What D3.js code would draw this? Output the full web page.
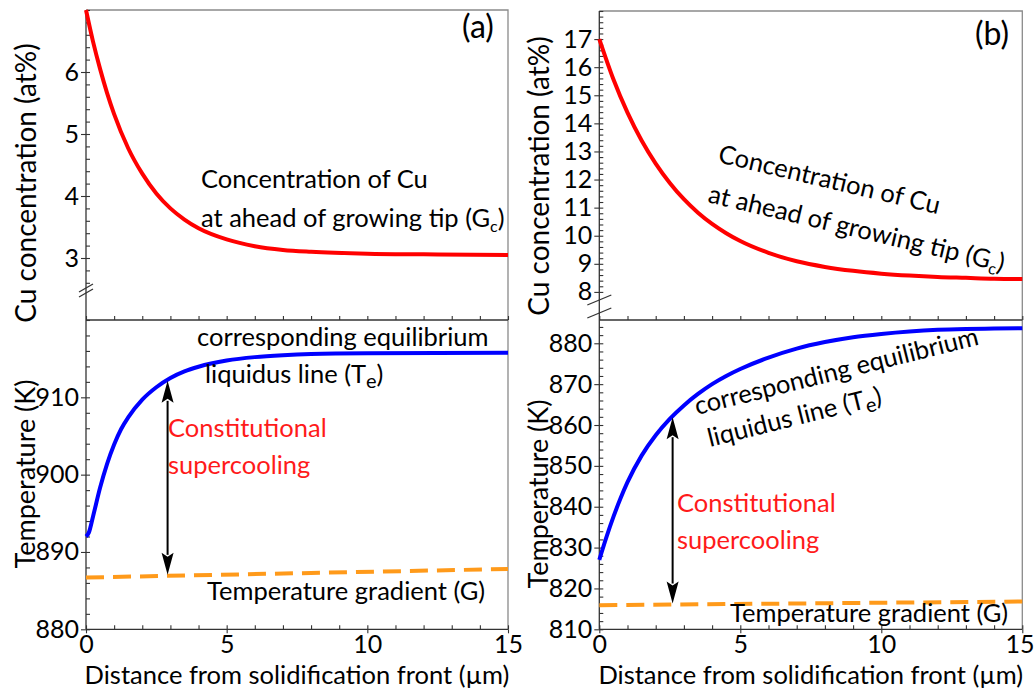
<!DOCTYPE html>
<html>
<head>
<meta charset="utf-8">
<script src="https://cdn.jsdelivr.net/npm/d3@7"></script>
<style>
  body { margin: 0; background: #fff; }
  svg { display: block; }
  text { font-family: Lato, "Open Sans", "DejaVu Sans", sans-serif; fill: #000; }
</style>
</head>
<body>
<svg id="chart" width="1035" height="691"></svg>
<script>
// ---- Panel (a): Cu concentration ahead of the tip ----
const distCuA = [0, 0.25, 0.5, 0.75, 1, 1.5, 2, 2.5, 3, 3.5, 4, 5, 6, 7, 8, 10, 12, 15];
const cuA     = [7.00, 6.49, 6.05, 5.66, 5.32, 4.77, 4.36, 4.04, 3.80, 3.62, 3.48, 3.30, 3.19, 3.13, 3.10, 3.07, 3.06, 3.05];
// ---- Panel (a): equilibrium liquidus temperature ----
const distTeA = [0, 0.1, 0.25, 0.5, 0.75, 1, 1.25, 1.5, 2, 2.5, 3, 3.5, 4, 5, 6, 7, 8, 10, 15];
const teA     = [892.0, 892.5, 894.6, 898.3, 901.4, 903.9, 905.9, 907.4, 909.7, 911.3, 912.5, 913.35, 913.95, 914.75, 915.2, 915.45, 915.6, 915.7, 915.75];
// ---- Panel (a): imposed temperature gradient ----
const distGA = [0, 15];
const gradA  = [886.7, 887.8];

// ---- Panel (b): Cu concentration ahead of the tip ----
const distCuB = [0, 0.5, 1, 1.5, 2, 2.5, 3, 3.5, 4, 4.5, 5, 6, 7, 8, 9, 10, 11, 12, 13, 14, 15];
const cuB     = [17.0, 15.57, 14.38, 13.39, 12.57, 11.88, 11.30, 10.82, 10.42, 10.09, 9.81, 9.39, 9.09, 8.89, 8.75, 8.65, 8.58, 8.53, 8.50, 8.47, 8.46];
// ---- Panel (b): equilibrium liquidus temperature ----
const distTeB = [0, 0.25, 0.5, 0.75, 1, 1.5, 2, 2.5, 3, 3.5, 4, 4.5, 5, 6, 7, 8, 9, 10, 11, 12, 13, 14, 15];
const teB     = [827.0, 832.5, 837.5, 842.0, 846.0, 852.5, 857.5, 861.5, 864.8, 867.6, 870.0, 872.0, 873.7, 876.5, 878.7, 880.3, 881.5, 882.3, 882.9, 883.3, 883.5, 883.6, 883.7];
// ---- Panel (b): imposed temperature gradient ----
const distGB = [0, 15];
const gradB  = [815.9, 816.8];

// ---- Tick labels ----
const distTicks  = [0, 5, 10, 15];
const cuTicksA   = [3, 4, 5, 6];
const tempTicksA = [880, 890, 900, 910];
const cuTicksB   = [8, 9, 10, 11, 12, 13, 14, 15, 16, 17];
const tempTicksB = [810, 820, 830, 840, 850, 860, 870, 880];

// Arrow positions (distance, µm) marking the constitutional supercooling
const arrowDistA = 2.9;
const arrowDistB = 2.6;

const svg = d3.select("#chart");
const AXIS = "#333";
const FRAME = "#8a8a8a";
const SVG_W = 1035;

function interp(xs, ys, x) {
  const i = Math.max(1, d3.bisectLeft(xs, x));
  const x0 = xs[i - 1], x1 = xs[i];
  return ys[i - 1] + (ys[i] - ys[i - 1]) * (x - x0) / (x1 - x0);
}

function range(a, b, s) {
  const out = [];
  for (let v = a; v <= b + 1e-9; v += s) out.push(+v.toFixed(4));
  return out;
}

function styleAxis(sel, size) {
  sel.selectAll("path.domain").remove();
  sel.selectAll("line").attr("stroke", AXIS).attr("stroke-width", 1.1);
  sel.selectAll("text").attr("font-size", size).attr("fill", "#000").attr("font-family", "Lato");
}

function drawPanel(p) {
  const g = svg.append("g");
  const x = d3.scaleLinear().domain([0, 15]).range([p.left, p.right]);
  const yc = d3.scaleLinear().domain(p.cDomain).range([p.mid, p.top]);
  const yt = d3.scaleLinear().domain(p.tDomain).range([p.bottom, p.mid]);

  // frame: top and right borders
  g.append("path")
    .attr("d", `M${p.left},${p.top}H${p.right}V${p.bottom}`)
    .attr("fill", "none").attr("stroke", FRAME).attr("stroke-width", 1.3);

  // shared horizontal divider between upper and lower plots
  g.append("line").attr("x1", p.left).attr("x2", p.right).attr("y1", p.mid).attr("y2", p.mid)
    .attr("stroke", AXIS).attr("stroke-width", 1.3);
  g.append("g").attr("transform", `translate(0,${p.mid})`)
    .call(d3.axisTop(x).tickValues(range(0, 15, 1)).tickSize(4).tickFormat(""))
    .call(a => styleAxis(a, 0));

  // bottom x axis: minor ticks inward, labelled ticks outward
  g.append("g").attr("transform", `translate(0,${p.bottom})`)
    .call(d3.axisTop(x).tickValues(range(0, 15, 1)).tickSize(4).tickFormat(""))
    .call(a => styleAxis(a, 0));
  const xLab = g.append("g").attr("transform", `translate(0,${p.bottom})`)
    .call(d3.axisBottom(x).tickValues(distTicks).tickSize(4).tickPadding(2).tickFormat(d3.format("d")))
    .call(a => styleAxis(a, 25));
  // keep the last label inside the page
  xLab.selectAll("text").each(function () {
    const b = this.getBBox();
    const tx = x(+this.textContent);
    const over = tx + b.x + b.width - (SVG_W - 1);
    if (over > 0) d3.select(this).attr("dx", -over);
  });
  g.append("line").attr("x1", p.left).attr("x2", p.right).attr("y1", p.bottom).attr("y2", p.bottom)
    .attr("stroke", AXIS).attr("stroke-width", 1.3);

  // left y axis line spanning both plots
  g.append("line").attr("x1", p.left).attr("x2", p.left).attr("y1", p.top).attr("y2", p.bottom)
    .attr("stroke", AXIS).attr("stroke-width", 1.3);

  // concentration axis
  g.append("g").attr("transform", `translate(${p.left},0)`)
    .call(d3.axisRight(yc).tickValues(p.cMinor).tickSize(4).tickFormat(""))
    .call(a => styleAxis(a, 0));
  g.append("g").attr("transform", `translate(${p.left},0)`)
    .call(d3.axisLeft(yc).tickValues(p.cTicks).tickSize(5).tickPadding(2).tickFormat(d3.format("d")))
    .call(a => styleAxis(a, 25));

  // temperature axis
  g.append("g").attr("transform", `translate(${p.left},0)`)
    .call(d3.axisRight(yt).tickValues(p.tMinor).tickSize(4).tickFormat(""))
    .call(a => styleAxis(a, 0));
  g.append("g").attr("transform", `translate(${p.left},0)`)
    .call(d3.axisLeft(yt).tickValues(p.tTicks).tickSize(5).tickPadding(2).tickFormat(d3.format("d")))
    .call(a => styleAxis(a, 25));

  // axis break marks
  p.breaks.forEach(b => {
    g.append("line")
      .attr("x1", p.left - b.w).attr("y1", b.y + b.h)
      .attr("x2", p.left + b.w).attr("y2", b.y - b.h)
      .attr("stroke", AXIS).attr("stroke-width", 1.3);
  });

  // curves
  const lineC = d3.line().x((d, i) => x(p.distCu[i])).y(d => yc(d)).curve(d3.curveMonotoneX);
  const lineT = d3.line().x((d, i) => x(p.distTe[i])).y(d => yt(d)).curve(d3.curveMonotoneX);
  const lineG = d3.line().x((d, i) => x(p.distG[i])).y(d => yt(d));

  g.append("path").attr("d", lineG(p.grad)).attr("fill", "none")
    .attr("stroke", "#ff9a1a").attr("stroke-width", 4).attr("stroke-dasharray", "18,9");
  g.append("path").attr("d", lineC(p.cu)).attr("fill", "none")
    .attr("stroke", "#ff0000").attr("stroke-width", 4);
  g.append("path").attr("d", lineT(p.te)).attr("fill", "none")
    .attr("stroke", "#0000ff").attr("stroke-width", 4);

  // double-headed arrow between gradient line and liquidus curve
  const ax = x(p.arrowDist);
  const yTop = yt(interp(p.distTe, p.te, p.arrowDist)) + 1;
  const yBot = yt(interp(p.distG, p.grad, p.arrowDist)) - 1;
  const hl = 22, hw = 6;
  g.append("line").attr("x1", ax).attr("x2", ax).attr("y1", yTop + hl - 2).attr("y2", yBot - hl + 2)
    .attr("stroke", "#000").attr("stroke-width", 2);
  g.append("path").attr("d", `M${ax},${yTop}L${ax - hw},${yTop + hl}L${ax},${yTop + hl - 4}L${ax + hw},${yTop + hl}Z`).attr("fill", "#000");
  g.append("path").attr("d", `M${ax},${yBot}L${ax - hw},${yBot - hl}L${ax},${yBot - hl + 4}L${ax + hw},${yBot - hl}Z`).attr("fill", "#000");

  // axis titles
  g.append("text").attr("transform", `translate(${p.titleX},${p.cTitleY}) rotate(-90)`)
    .attr("text-anchor", "middle").attr("dy", "0.35em").attr("font-size", 28).text("Cu concentration (at%)");
  g.append("text").attr("transform", `translate(${p.titleX},${p.tTitleY}) rotate(-90)`)
    .attr("text-anchor", "middle").attr("dy", "0.35em").attr("font-size", 27).text("Temperature (K)");
  g.append("text").attr("x", (p.left + p.right) / 2).attr("y", 684)
    .attr("text-anchor", "middle").attr("font-size", 25.5).text("Distance from solidification front (µm)");

  // panel tag
  g.append("text").attr("x", p.tag.x).attr("y", p.tag.y).attr("font-size", 32).text(p.tag.t);

  return g;
}

const ANN = 25.5;

function concLabel(g, x1, y1, x2, y2, rot) {
  g.append("text").attr("font-size", ANN)
    .attr("transform", `translate(${x1},${y1}) rotate(${rot})`).text("Concentration of Cu");
  const t2 = g.append("text").attr("font-size", ANN)
    .attr("transform", `translate(${x2},${y2}) rotate(${rot})`);
  t2.append("tspan").text("at ahead of growing tip (G");
  t2.append("tspan").attr("font-size", 16).attr("dy", 5).text("c");
  t2.append("tspan").attr("dy", -5).text(")");
}

function liqLabel(g, x1, y1, x2, y2, rot) {
  g.append("text").attr("font-size", ANN)
    .attr("transform", `translate(${x1},${y1}) rotate(${rot})`).text("corresponding equilibrium");
  const t2 = g.append("text").attr("font-size", ANN)
    .attr("transform", `translate(${x2},${y2}) rotate(${rot})`);
  t2.append("tspan").text("liquidus line (T");
  t2.append("tspan").attr("font-size", 20).attr("dy", 5).text("e");
  t2.append("tspan").attr("dy", -5).text(")");
}

function supercoolLabel(g, x, y) {
  g.append("text").attr("x", x).attr("y", y).attr("font-size", ANN).style("fill", "#ff1a1a").text("Constitutional");
  g.append("text").attr("x", x).attr("y", y + 37).attr("font-size", ANN).style("fill", "#ff1a1a").text("supercooling");
}

function gradLabel(g, x, y) {
  g.append("text").attr("x", x).attr("y", y).attr("font-size", ANN).text("Temperature gradient (G)");
}

const gA = drawPanel({
  left: 86, right: 508, top: 10, mid: 320, bottom: 629.3,
  cDomain: [2, 7], tDomain: [880, 920],
  cTicks: cuTicksA, cMinor: range(2.6, 7, 0.2),
  tTicks: tempTicksA, tMinor: range(880, 920, 2),
  distCu: distCuA, cu: cuA, distTe: distTeA, te: teA, distG: distGA, grad: gradA,
  arrowDist: arrowDistA,
  breaks: [{ y: 288, w: 7, h: 4 }, { y: 293, w: 7, h: 4 }],
  titleX: 26, cTitleY: 183, tTitleY: 474,
  tag: { x: 462, y: 38, t: "(a)" }
});
concLabel(gA, 201, 188, 201, 227, 0);
liqLabel(gA, 197, 346, 205, 383, 0);
supercoolLabel(gA, 168, 437);
gradLabel(gA, 207, 600);

const gB = drawPanel({
  left: 599.3, right: 1022.3, top: 11, mid: 320, bottom: 629.3,
  cDomain: [7, 18], tDomain: [810, 885.7],
  cTicks: cuTicksB, cMinor: range(8, 18, 0.2),
  tTicks: tempTicksB, tMinor: range(810, 884, 2),
  distCu: distCuB, cu: cuB, distTe: distTeB, te: teB, distG: distGB, grad: gradB,
  arrowDist: arrowDistB,
  breaks: [{ y: 300, w: 12, h: 5 }, { y: 313, w: 12, h: 5 }],
  titleX: 539, cTitleY: 176, tTitleY: 494,
  tag: { x: 975, y: 45, t: "(b)" }
});
concLabel(gB, 717, 162, 707, 202, 13.3);
liqLabel(gB, 697, 415, 710, 447, -14);
supercoolLabel(gB, 677, 512);
gradLabel(gB, 730, 622);
</script>
</body>
</html>
